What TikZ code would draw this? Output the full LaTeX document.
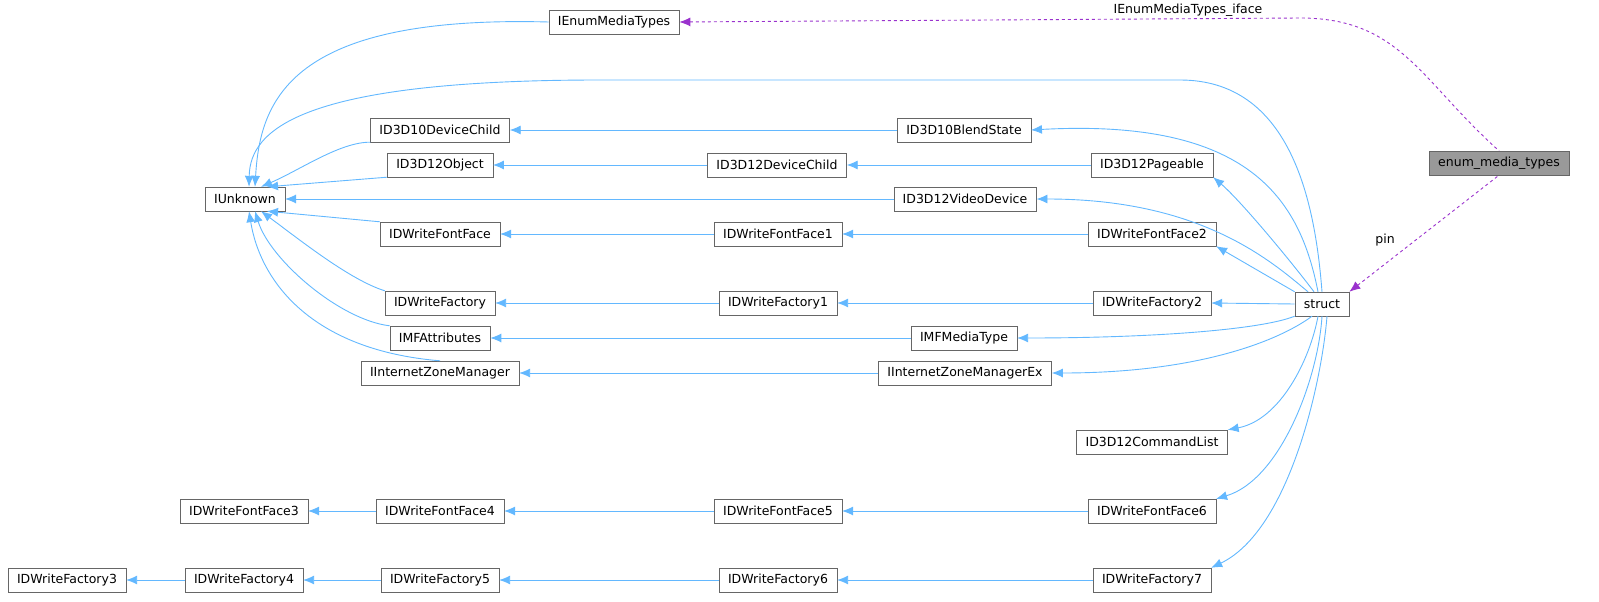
\documentclass[tikz,border=0pt]{standalone}
\usepackage{fontspec}
\setmainfont{DejaVu Sans}
\usetikzlibrary{arrows.meta}
\definecolor{eb}{HTML}{63B8FF}
\definecolor{pp}{HTML}{9A32CD}
\begin{document}
\begin{tikzpicture}[x=1pt,y=-1pt,
 n/.style={draw=black!60,fill=white,minimum height=24pt,inner xsep=9pt,inner ysep=2pt,font=\fontsize{12.5}{14}\selectfont},
 e/.style={eb,line width=0.9pt,{Latex[length=11pt,width=9pt]}-},
 d/.style={pp,dashed,line width=0.9pt,{Latex[length=11pt,width=9pt]}-}]
\useasboundingbox (0,0) rectangle (1599,602);
\node[n] (iem) at (614,22) {IEnumMediaTypes};
\node[n,fill=black!40] (emt) at (1499,163) {enum\_media\_types};
\node[n] (iu) at (245,199) {IUnknown};
\node[n] (d10c) at (440,130) {ID3D10DeviceChild};
\node[n] (d10b) at (964,130) {ID3D10BlendState};
\node[n] (d12o) at (440,165) {ID3D12Object};
\node[n] (d12c) at (777,165) {ID3D12DeviceChild};
\node[n] (d12p) at (1152,165) {ID3D12Pageable};
\node[n] (d12v) at (965,199) {ID3D12VideoDevice};
\node[n] (ff) at (440,234) {IDWriteFontFace};
\node[n] (ff1) at (778,234) {IDWriteFontFace1};
\node[n] (ff2) at (1152,234) {IDWriteFontFace2};
\node[n] (st) at (1322,304) {struct};
\node[n] (fa) at (440,303) {IDWriteFactory};
\node[n] (fa1) at (778,303) {IDWriteFactory1};
\node[n] (fa2) at (1152,303) {IDWriteFactory2};
\node[n] (mfa) at (440,338) {IMFAttributes};
\node[n] (mft) at (964,338) {IMFMediaType};
\node[n] (izm) at (440,373) {IInternetZoneManager};
\node[n] (izx) at (965,373) {IInternetZoneManagerEx};
\node[n] (cl) at (1152,442) {ID3D12CommandList};
\node[n] (ff3) at (244,511) {IDWriteFontFace3};
\node[n] (ff4) at (440,511) {IDWriteFontFace4};
\node[n] (ff5) at (778,511) {IDWriteFontFace5};
\node[n] (ff6) at (1152,511) {IDWriteFontFace6};
\node[n] (fa3) at (67,580) {IDWriteFactory3};
\node[n] (fa4) at (244,580) {IDWriteFactory4};
\node[n] (fa5) at (440,580) {IDWriteFactory5};
\node[n] (fa6) at (778,580) {IDWriteFactory6};
\node[n] (fa7) at (1152,580) {IDWriteFactory7};
% IUnknown children
\draw[e] ([xshift=10pt]iu.north) .. controls (260,100) and (290,15) .. (iem.west);
\draw[e] ([xshift=4pt]iu.north) .. controls (250,130) and (300,80) .. (600,80) -- (1180,80) .. controls (1290,80) and (1315,200) .. (st.north);
\draw[e] ([xshift=16pt]iu.north) .. controls (300,170) and (340,142) .. (d10c.south west);
\draw[e] ([xshift=22pt]iu.north) -- (d12o.south west);
\draw[e] (iu.east) -- (d12v.west);
\draw[e] ([xshift=22pt]iu.south) -- (ff.north west);
\draw[e] ([xshift=16pt]iu.south) .. controls (300,240) and (350,280) .. (fa.north west);
\draw[e] ([xshift=10pt]iu.south) .. controls (270,260) and (340,320) .. (mfa.north west);
\draw[e] ([xshift=4pt]iu.south) .. controls (260,280) and (310,350) .. (izm.north);
% chains
\draw[e] (d10c) -- (d10b);
\draw[e] (d12o) -- (d12c);
\draw[e] (d12c) -- (d12p);
\draw[e] (ff) -- (ff1);
\draw[e] (ff1) -- (ff2);
\draw[e] (fa) -- (fa1);
\draw[e] (fa1) -- (fa2);
\draw[e] (mfa) -- (mft);
\draw[e] (izm) -- (izx);
\draw[e] (ff3) -- (ff4);
\draw[e] (ff4) -- (ff5);
\draw[e] (ff5) -- (ff6);
\draw[e] (fa3) -- (fa4);
\draw[e] (fa4) -- (fa5);
\draw[e] (fa5) -- (fa6);
\draw[e] (fa6) -- (fa7);
% to struct
\draw[e] (d10b.east) .. controls (1250,118) and (1300,200) .. ([xshift=-4pt]st.north);
\draw[e] (d12p.south east) .. controls (1240,200) and (1290,260) .. ([xshift=-8pt]st.north);
\draw[e] (d12v.east) .. controls (1200,199) and (1270,260) .. ([xshift=-14pt]st.north);
\draw[e] (ff2.south east) -- (st.north west);
\draw[e] (fa2.east) -- (st.west);
\draw[e] (mft.east) .. controls (1150,338) and (1260,330) .. (st.south west);
\draw[e] (izx.east) .. controls (1200,373) and (1280,340) .. ([xshift=-10pt]st.south);
\draw[e] (cl.north east) .. controls (1280,420) and (1310,360) .. ([xshift=-4pt]st.south);
\draw[e] (ff6.north east) .. controls (1280,480) and (1318,380) .. (st.south);
\draw[e] (fa7.north east) .. controls (1290,530) and (1322,380) .. ([xshift=5pt]st.south);
% dashed
\draw[d] (iem.east) -- (1300,18) .. controls (1400,18) and (1420,80) .. (emt.north);
\node[font=\fontsize{12.5}{14}\selectfont] (l1) at (1188,10) {IEnumMediaTypes\_iface};
\draw[d] (st.north east) -- (emt.south);
\node[font=\fontsize{12.5}{14}\selectfont] (l2) at (1385,240) {pin};
\end{tikzpicture}
\end{document}
